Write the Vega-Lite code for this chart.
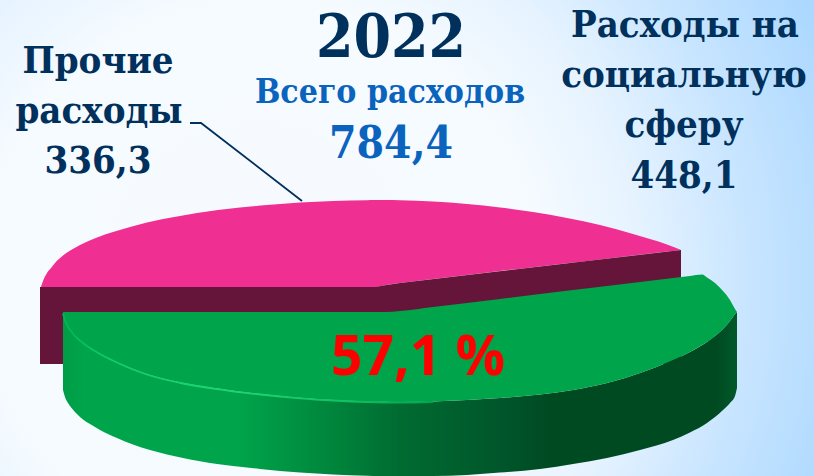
{"$schema":"https://vega.github.io/schema/vega-lite/v6.json","width":814,"height":476,"padding":0,"autosize":{"type":"none"},"background":"#ffffff","config":{"view":{"stroke":null},"text":{"fontWeight":"bold","font":"DejaVu Serif Condensed","baseline":"alphabetic","align":"center"}},
"datasets":{
"bg":[{"x":0,"x2":814,"y":0,"y2":476}],
"pink":[{"x":41,"y":287,"y2":287},{"x":43,"y":281,"y2":287},{"x":47,"y":273,"y2":287},{"x":51,"y":268,"y2":287},{"x":55,"y":263,"y2":287},{"x":63,"y":255.5,"y2":287},{"x":72,"y":249.5,"y2":287},{"x":80,"y":245,"y2":287},{"x":97,"y":237.5,"y2":287},{"x":113,"y":232,"y2":287},{"x":130,"y":227,"y2":287},{"x":147,"y":222.5,"y2":287},{"x":163,"y":219,"y2":287},{"x":180,"y":216,"y2":287},{"x":197,"y":213,"y2":287},{"x":218,"y":210,"y2":287},{"x":240,"y":207.5,"y2":287},{"x":267,"y":205,"y2":287},{"x":300,"y":202.5,"y2":287},{"x":333,"y":201,"y2":287},{"x":367,"y":200.2,"y2":287},{"x":375,"y":200.1,"y2":287},{"x":385,"y":200.1,"y2":285.2},{"x":400,"y":200.2,"y2":283},{"x":433,"y":201.5,"y2":279},{"x":467,"y":204,"y2":275},{"x":500,"y":207.5,"y2":271},{"x":533,"y":212,"y2":267.3},{"x":567,"y":218,"y2":263.3},{"x":600,"y":225,"y2":259.5},{"x":633,"y":234,"y2":255.5},{"x":667,"y":244.5,"y2":251.6},{"x":675,"y":247.5,"y2":250.7},{"x":681,"y":250,"y2":250}],
"maroon":[{"x":40,"y":287,"y2":364},{"x":375,"y":287,"y2":364},{"x":385,"y":285.2,"y2":364},{"x":400,"y":283,"y2":364},{"x":681,"y":250,"y2":364}],
"side":[{"x":63,"y":313,"y2":390},{"x":65,"y":320,"y2":397},{"x":68,"y":326.5,"y2":403},{"x":72,"y":332,"y2":408.5},{"x":77,"y":337.5,"y2":414},{"x":83,"y":342.5,"y2":419.5},{"x":90,"y":347.5,"y2":424},{"x":100,"y":353.5,"y2":430},{"x":117,"y":362,"y2":438},{"x":133,"y":369,"y2":444.5},{"x":150,"y":375,"y2":450},{"x":167,"y":379.5,"y2":454.5},{"x":183,"y":383,"y2":458},{"x":200,"y":386,"y2":461.2},{"x":217,"y":388.5,"y2":464},{"x":233,"y":390.8,"y2":466},{"x":260,"y":394,"y2":469},{"x":280,"y":396,"y2":471},{"x":300,"y":397.8,"y2":472.5},{"x":333,"y":400,"y2":474.5},{"x":367,"y":401.5,"y2":475.7},{"x":400,"y":402,"y2":476.2},{"x":433,"y":401.5,"y2":476},{"x":467,"y":400,"y2":475},{"x":500,"y":398,"y2":472.5},{"x":540,"y":394.5,"y2":469},{"x":573,"y":390,"y2":464},{"x":607,"y":383,"y2":458},{"x":640,"y":373,"y2":450},{"x":673,"y":360,"y2":440},{"x":690,"y":352,"y2":432.5},{"x":707,"y":342,"y2":423},{"x":715,"y":336,"y2":417},{"x":723,"y":329,"y2":410},{"x":730,"y":321,"y2":403},{"x":735,"y":314,"y2":396},{"x":737,"y":312,"y2":388}],
"face":[{"x":63,"y":312,"y2":313},{"x":65,"y":312,"y2":320},{"x":68,"y":312,"y2":326.5},{"x":72,"y":312,"y2":332},{"x":77,"y":312,"y2":337.5},{"x":83,"y":312,"y2":342.5},{"x":90,"y":312,"y2":347.5},{"x":100,"y":312,"y2":353.5},{"x":117,"y":312,"y2":362},{"x":133,"y":312,"y2":369},{"x":150,"y":312,"y2":375},{"x":167,"y":312,"y2":379.5},{"x":183,"y":312,"y2":383},{"x":200,"y":312,"y2":386},{"x":217,"y":312,"y2":388.5},{"x":233,"y":312,"y2":390.8},{"x":260,"y":312,"y2":394},{"x":280,"y":312,"y2":396},{"x":300,"y":312,"y2":397.8},{"x":333,"y":312,"y2":400},{"x":367,"y":312,"y2":401.5},{"x":385,"y":312,"y2":401.8},{"x":400,"y":311,"y2":402},{"x":433,"y":307,"y2":401.5},{"x":467,"y":302.9,"y2":400},{"x":500,"y":298.9,"y2":398},{"x":540,"y":294.1,"y2":394.5},{"x":573,"y":290.1,"y2":390},{"x":607,"y":286,"y2":383},{"x":640,"y":282,"y2":373},{"x":673,"y":278,"y2":360},{"x":690,"y":275.9,"y2":352},{"x":702,"y":274.5,"y2":345},{"x":707,"y":277.5,"y2":342},{"x":715,"y":283,"y2":336},{"x":723,"y":291,"y2":329},{"x":730,"y":300,"y2":321},{"x":735,"y":309,"y2":314},{"x":737,"y":312,"y2":312}],
"shine":[{"x":63,"y":313.5},{"x":65,"y":320.5},{"x":68,"y":327},{"x":72,"y":332.5},{"x":77,"y":338},{"x":83,"y":343},{"x":90,"y":348},{"x":100,"y":354},{"x":117,"y":362.5},{"x":133,"y":369.5},{"x":150,"y":375.5},{"x":167,"y":380},{"x":183,"y":383.5},{"x":200,"y":386.5},{"x":217,"y":389},{"x":233,"y":391.3},{"x":260,"y":394.5},{"x":280,"y":396.5},{"x":300,"y":398.3},{"x":333,"y":400.5},{"x":367,"y":402},{"x":400,"y":402.5},{"x":433,"y":402}],
"leader":[{"x":190,"y":123},{"x":201,"y":123},{"x":302,"y":201}],
"dark":[{"t":"Прочие","x":98,"y":73},{"t":"расходы","x":99,"y":123},{"t":"336,3","x":98,"y":173},{"t":"Расходы на","x":685,"y":37},{"t":"социальную","x":684,"y":87},{"t":"сферу","x":684,"y":137},{"t":"448,1","x":684,"y":188}],
"year":[{"t":"2022","x":391,"y":57}],
"total":[{"t":"Всего расходов","x":390,"y":103}],
"totalv":[{"t":"784,4","x":391,"y":158}],
"pct":[{"t":"57,1 %","x":418,"y":375}]
},
"encoding":{"x":{"field":"x","type":"quantitative","scale":{"domain":[0,814],"nice":false,"zero":false},"axis":null},"y":{"field":"y","type":"quantitative","scale":{"domain":[476,0],"nice":false,"zero":false},"axis":null}},
"layer":[
{"data":{"name":"bg"},"mark":{"type":"rect","fill":{"gradient":"radial","x1":0.32,"y1":0.55,"r1":0,"x2":0.32,"y2":0.55,"r2":0.75,"stops":[{"offset":0,"color":"#F6FAFF"},{"offset":0.45,"color":"#F6FBFF"},{"offset":0.62,"color":"#E6F3FF"},{"offset":0.8,"color":"#C8E5FF"},{"offset":1,"color":"#ACD8FF"}]}},"encoding":{"x2":{"field":"x2"},"y2":{"field":"y2"}}},
{"data":{"name":"pink"},"mark":{"type":"area","orient":"vertical","interpolate":"monotone","color":"#EF3092"},"encoding":{"y2":{"field":"y2"}}},
{"data":{"name":"maroon"},"mark":{"type":"area","orient":"vertical","color":"#65143A"},"encoding":{"y2":{"field":"y2"}}},
{"data":{"name":"side"},"mark":{"type":"area","orient":"vertical","interpolate":"monotone","fill":{"gradient":"linear","x1":0,"y1":0,"x2":1,"y2":0,"stops":[{"offset":0,"color":"#009C46"},{"offset":0.03,"color":"#00A44A"},{"offset":0.26,"color":"#00A44A"},{"offset":0.4,"color":"#00853C"},{"offset":0.5,"color":"#006B31"},{"offset":0.65,"color":"#00562A"},{"offset":0.72,"color":"#004A22"},{"offset":0.97,"color":"#004A22"},{"offset":1,"color":"#005A2A"}]}},"encoding":{"y2":{"field":"y2"}}},
{"data":{"name":"face"},"mark":{"type":"area","orient":"vertical","interpolate":"monotone","color":"#00A44A"},"encoding":{"y2":{"field":"y2"}}},
{"data":{"name":"shine"},"mark":{"type":"line","orient":"vertical","interpolate":"monotone","strokeWidth":1.8,"stroke":{"gradient":"linear","x1":0,"y1":0,"x2":1,"y2":0,"stops":[{"offset":0,"color":"#00B555"},{"offset":0.12,"color":"#12CC68"},{"offset":0.45,"color":"#1FD673"},{"offset":0.78,"color":"#10C060"},{"offset":1,"color":"#00A44A"}]}}},
{"data":{"name":"leader"},"mark":{"type":"line","orient":"vertical","color":"#00305C","strokeWidth":1.8}},
{"data":{"name":"dark"},"mark":{"type":"text","fontSize":38,"color":"#00305C"},"encoding":{"text":{"field":"t"}}},
{"data":{"name":"year"},"mark":{"type":"text","fontSize":60,"color":"#00305C"},"encoding":{"text":{"field":"t"}}},
{"data":{"name":"total"},"mark":{"type":"text","fontSize":33.5,"color":"#0A63BD"},"encoding":{"text":{"field":"t"}}},
{"data":{"name":"totalv"},"mark":{"type":"text","fontSize":44,"color":"#0A63BD"},"encoding":{"text":{"field":"t"}}},
{"data":{"name":"pct"},"mark":{"type":"text","fontSize":55,"color":"#FF0000","font":"Open Sans"},"encoding":{"text":{"field":"t"}}}
]}
